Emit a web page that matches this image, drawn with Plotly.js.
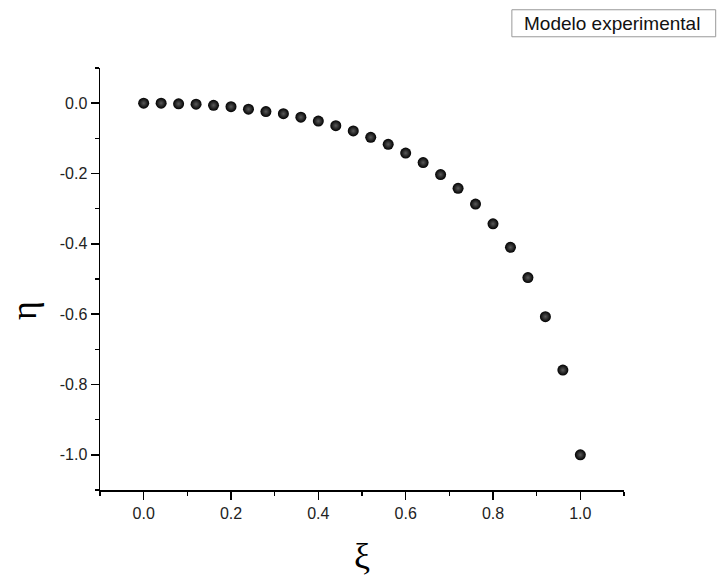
<!DOCTYPE html>
<html>
<head>
<meta charset="utf-8">
<script src="https://cdn.plot.ly/plotly-3.0.1.min.js"></script>
<style>html,body{margin:0;padding:0;background:#fff;}#chart{width:717px;height:576px;}</style>
</head>
<body>
<div id="chart"></div>
<script>
const xi = [0.00, 0.04, 0.08, 0.12, 0.16, 0.20, 0.24, 0.28, 0.32, 0.36, 0.40, 0.44, 0.48,
            0.52, 0.56, 0.60, 0.64, 0.68, 0.72, 0.76, 0.80, 0.84, 0.88, 0.92, 0.96, 1.00];
const eta = [0.000, 0.000, -0.002, -0.003, -0.006, -0.010, -0.017, -0.024, -0.030, -0.040,
             -0.051, -0.064, -0.079, -0.097, -0.117, -0.142, -0.169, -0.203, -0.242, -0.287,
             -0.343, -0.410, -0.496, -0.607, -0.759, -1.000];
const xTickVals = [0.0, 0.2, 0.4, 0.6, 0.8, 1.0];
const xTickText = ["0.0", "0.2", "0.4", "0.6", "0.8", "1.0"];
const yTickVals = [0.0, -0.2, -0.4, -0.6, -0.8, -1.0];
const yTickText = ["0.0", "-0.2", "-0.4", "-0.6", "-0.8", "-1.0"];
const seriesName = "Modelo experimental";
const xTitle = "ξ";
const yTitle = "η";

const trace = {
  x: xi, y: eta, type: 'scatter', mode: 'markers', name: seriesName,
  marker: {size: 11, color: '#000', line: {width: 0},
           gradient: {type: 'radial', color: '#5a5a5a'}},
  showlegend: false, hoverinfo: 'x+y'
};

const axisCommon = {
  showline: true, linecolor: '#000', linewidth: 1.5, mirror: false,
  showgrid: false, zeroline: false,
  ticks: 'outside', ticklen: 8, tickwidth: 1.5, tickcolor: '#000',
  tickmode: 'array',
  tickfont: {family: 'Liberation Sans, Arial, sans-serif', size: 16, color: '#222'},
  minor: {dtick: 0.1, tick0: 0, ticks: 'outside', ticklen: 4, tickwidth: 1.5, tickcolor: '#000', showgrid: false}
};

const layout = {
  width: 717, height: 576,
  margin: {l: 100, r: 93, t: 68, b: 86},
  paper_bgcolor: '#fff', plot_bgcolor: '#fff',
  xaxis: Object.assign({}, axisCommon, {range: [-0.1, 1.1], tickvals: xTickVals, ticktext: xTickText}),
  yaxis: Object.assign({}, axisCommon, {range: [-1.1, 0.1], tickvals: yTickVals, ticktext: yTickText}),
  shapes: [{type: 'rect', xref: 'paper', yref: 'paper',
            x0: 0.786, x1: 1.175, y0: 1.074, y1: 1.138,
            line: {color: '#999', width: 1}, fillcolor: 'rgba(0,0,0,0)'}],
  annotations: [
    {text: seriesName, xref: 'paper', yref: 'paper', x: 0.805, y: 1.106,
     xanchor: 'left', yanchor: 'middle', showarrow: false,
     font: {family: 'Liberation Sans, Arial, sans-serif', size: 19, color: '#111'}},
    {text: yTitle, xref: 'paper', yref: 'paper', x: 0, y: 0.5, xanchor: 'center', yanchor: 'middle',
     xshift: -76, yshift: -32, textangle: -90, showarrow: false,
     font: {family: 'Liberation Serif, Times New Roman, serif', size: 36, color: '#000'}},
    {text: xTitle, xref: 'paper', yref: 'paper', x: 0.5, y: 0, xanchor: 'center', yanchor: 'top',
     yshift: -44, showarrow: false,
     font: {family: 'Liberation Serif, Times New Roman, serif', size: 36, color: '#000'}}
  ]
};

Plotly.newPlot('chart', [trace], layout, {displayModeBar: false, staticPlot: true});
</script>
</body>
</html>
